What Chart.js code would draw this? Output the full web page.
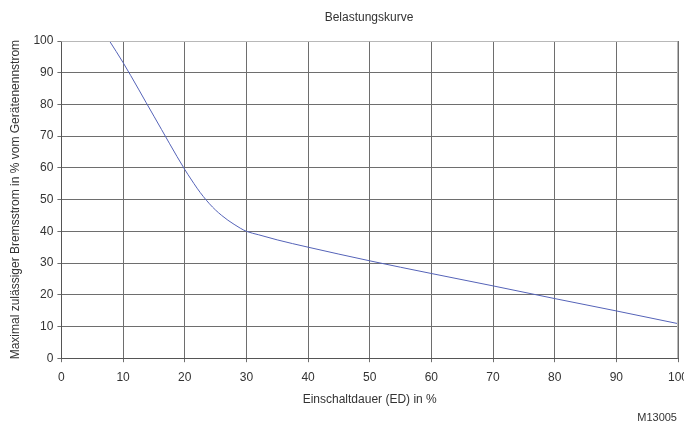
<!DOCTYPE html>
<html lang="de">
<head>
  <meta charset="UTF-8">
  <title>Belastungskurve</title>
  <style>
    html, body { margin: 0; padding: 0; background: #fff; overflow: hidden; }
    #wrap { position: relative; width: 684px; height: 423px; }
    .txt { position: absolute; font: 12px "Liberation Sans Narrow", "Liberation Sans", Arial; color: #333; white-space: nowrap; }
    #title { left: 369px; top: 10px; transform: translateX(-50%); }
    #code { right: 7px; top: 411px; font-size: 11px; }
  </style>
  <script src="https://cdn.jsdelivr.net/npm/chart.js"></script>
</head>
<body>
  <div id="wrap">
    <canvas id="curve" width="684" height="423"></canvas>
    <div id="title" class="txt">Belastungskurve</div>
    <div id="code" class="txt">M13005</div>
  </div>

  <script>
    // Einschaltdauer (ED) in %
    const ed = [7.8, 10, 15, 20, 21, 22, 23, 24, 25, 26, 27, 28, 29, 30, 32, 35, 40, 50, 60, 70, 80, 90, 100];
    // max. zulässiger Bremsstrom in % vom Gerätenennstrom
    const strom = [100, 93.2, 76.3, 59.5, 56.5, 53.6, 51, 48.7, 46.7, 45, 43.5, 42.2, 41, 40, 38.9, 37.3, 35, 30.7, 26.7, 22.8, 18.8, 14.9, 10.9];
    const xTicks = [0, 10, 20, 30, 40, 50, 60, 70, 80, 90, 100];
    const yTicks = [0, 10, 20, 30, 40, 50, 60, 70, 80, 90, 100];

    const font = { family: '"Liberation Sans Narrow", "Liberation Sans", Arial', size: 12 };
    const gridCol = '#6e6e6e';

    new Chart(document.getElementById('curve'), {
      type: 'scatter',
      data: {
        datasets: [{
          data: ed.map((x, i) => ({ x: x, y: strom[i] })),
          showLine: true,
          borderColor: '#5563b8',
          borderWidth: 1,
          pointRadius: 0,
          cubicInterpolationMode: 'monotone',
          clip: false
        }]
      },
      options: {
        responsive: false,
        animation: false,
        layout: { padding: { top: 41, right: 6, bottom: 16, left: 4 } },
        plugins: {
          legend: { display: false },
          tooltip: { enabled: false },
          title: { display: false }
        },
        scales: {
          x: {
            type: 'linear',
            min: 0, max: 100,
            afterBuildTicks: s => { s.ticks = xTicks.map(v => ({ value: v })); },
            afterFit: s => { s.paddingRight = 0; },
            ticks: { color: '#333', font: font, maxRotation: 0, padding: 8 },
            grid: { color: gridCol, tickLength: 4, lineWidth: 1 },
            border: { color: '#555' },
            title: { display: true, text: 'Einschaltdauer (ED) in %', color: '#333', font: font, padding: { top: 0, bottom: 0 } }
          },
          y: {
            min: 0, max: 100,
            afterBuildTicks: s => { s.ticks = yTicks.map(v => ({ value: v })); },
            ticks: { color: '#333', font: font, padding: 4 },
            grid: { color: gridCol, tickLength: 4, lineWidth: 1 },
            border: { color: '#555' },
            title: { display: true, text: 'Maximal zulässiger Bremsstrom in % vom Gerätenennstrom', color: '#333', font: font, padding: { bottom: 7 } }
          }
        }
      },
      plugins: [{
        id: 'frame',
        afterDraw(chart) {
          const a = chart.chartArea, c = chart.ctx;
          c.save();
          c.strokeStyle = '#b8b8b8';
          c.lineWidth = 1;
          c.beginPath();
          c.moveTo(a.left, a.top + 0.5);
          c.lineTo(a.right - 0.5, a.top + 0.5);
          c.lineTo(a.right - 0.5, a.bottom);
          c.stroke();
          c.restore();
        }
      }]
    });
  </script>
</body>
</html>
